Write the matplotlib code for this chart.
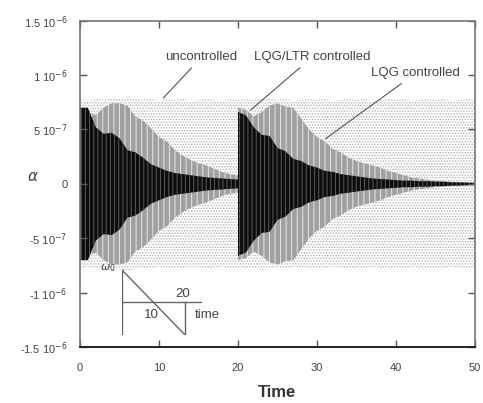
import numpy as np
import matplotlib.pyplot as plt

plt.rcParams['font.family'] = ['Liberation Sans', 'DejaVu Sans']
plt.rcParams['hatch.linewidth'] = 0.7

# envelope of each response (units of 1e-6)
# t = 20 appears twice: the disturbance is applied again there
time = [0, 1, 2, 3, 4, 5, 6, 7, 8, 9, 10, 11, 12, 13, 14, 15, 16, 17, 18, 19, 20,
        20, 21, 22, 23, 24, 25, 26, 27, 28, 29, 30, 31, 32, 33, 34, 35, 36, 37, 38,
        39, 40, 41, 42, 43, 44, 45, 46, 47, 48, 49, 50]

uncontrolled = [0.78, 0.76, 0.78, 0.77, 0.79, 0.78, 0.80, 0.78, 0.77, 0.78, 0.76,
                0.78, 0.77, 0.78, 0.76, 0.77, 0.78, 0.77, 0.76, 0.78, 0.77,
                0.77, 0.78, 0.77, 0.79, 0.78, 0.77, 0.78, 0.76, 0.77, 0.78, 0.77,
                0.78, 0.76, 0.77, 0.78, 0.77, 0.78, 0.76, 0.77, 0.78, 0.77,
                0.78, 0.76, 0.77, 0.78, 0.77, 0.78, 0.76, 0.77, 0.78, 0.77]

lqg = [0.66, 0.66, 0.63, 0.70, 0.74, 0.74, 0.72, 0.62, 0.58, 0.51, 0.43,
       0.39, 0.31, 0.26, 0.22, 0.19, 0.17, 0.14, 0.11, 0.09, 0.08,
       0.70, 0.68, 0.62, 0.66, 0.72, 0.74, 0.71, 0.70, 0.60, 0.50, 0.43,
       0.39, 0.32, 0.29, 0.24, 0.21, 0.19, 0.17, 0.15, 0.12, 0.10,
       0.08, 0.06, 0.05, 0.04, 0.03, 0.025, 0.02, 0.015, 0.012, 0.01]

lqg_ltr = [0.70, 0.70, 0.52, 0.46, 0.47, 0.42, 0.31, 0.29, 0.24, 0.18, 0.15,
           0.12, 0.10, 0.09, 0.08, 0.07, 0.06, 0.055, 0.05, 0.045, 0.04,
           0.66, 0.63, 0.52, 0.45, 0.44, 0.33, 0.30, 0.23, 0.21, 0.17, 0.15,
           0.12, 0.11, 0.09, 0.08, 0.07, 0.06, 0.05, 0.045, 0.04, 0.035,
           0.03, 0.03, 0.025, 0.025, 0.02, 0.02, 0.015, 0.015, 0.012, 0.01]

# little sketch of the rotor speed schedule
sketch_t = [0, 20]
sketch_w = [1, -1]

ytick_vals = [-1.5e-6, -1e-6, -5e-7, 0, 5e-7, 1e-6, 1.5e-6]
ytick_labels = [r'-1.5 10$^{-6}$', r'-1 10$^{-6}$', r'-5 10$^{-7}$', '0',
                r'5 10$^{-7}$', r'1 10$^{-6}$', r'1.5 10$^{-6}$']

t = np.array(time)
scale = 1e-6

fig = plt.figure(figsize=(4.83, 4.03), dpi=100)
ax = fig.add_axes([0.1656, 0.1382, 0.8178, 0.8108])

a = np.array(uncontrolled) * scale
ax.fill_between(t, -a, a, facecolor='white', edgecolor='#b4b4b4', hatch='......',
                linewidth=0)
a = np.array(lqg) * scale
ax.fill_between(t, -a, a, facecolor='#a0a0a0', edgecolor='#e6e6e6', hatch='|||',
                linewidth=0)
a = np.array(lqg_ltr) * scale
ax.fill_between(t, -a, a, facecolor='#0c0c0c', edgecolor='#5a5a5a', hatch='||||',
                linewidth=0)

ax.set_xlim(0, 50)
ax.set_ylim(-1.5e-6, 1.5e-6)
ax.set_xticks([0, 10, 20, 30, 40, 50])
ax.set_yticks(ytick_vals)
ax.set_yticklabels(ytick_labels)
ax.tick_params(direction='in', length=5, width=1, colors='#555555',
               labelcolor='#444444', top=True, right=True, labelsize=8)
ax.tick_params(axis='x', pad=11)
ax.tick_params(axis='y', pad=9)
for side in ['left', 'right', 'top']:
    ax.spines[side].set_color('#777777')
    ax.spines[side].set_linewidth(1.2)
ax.spines['bottom'].set_color('#222222')
ax.spines['bottom'].set_linewidth(1.4)

ax.set_ylabel(r'$\alpha$', rotation=0, fontsize=11, color='#444444')
ax.yaxis.set_label_coords(-0.119, 0.5)
ax.set_xlabel('Time', fontsize=12, fontweight='bold', color='#333333', va='top')
ax.xaxis.set_label_coords(0.5, -0.115)

arrow = dict(arrowstyle='-', color='#555555', lw=0.8)
ax.annotate('uncontrolled', xy=(10.3, 0.77e-6), xytext=(15.4, 1.164e-6),
            ha='center', va='center', fontsize=9.5, color='#444444', arrowprops=arrow)
ax.annotate('LQG/LTR controlled', xy=(21.3, 0.66e-6), xytext=(29.4, 1.164e-6),
            ha='center', va='center', fontsize=9.5, color='#444444', arrowprops=arrow)
ax.annotate('LQG controlled', xy=(30.8, 0.40e-6), xytext=(42.5, 1.017e-6),
            ha='center', va='center', fontsize=9.5, color='#444444', arrowprops=arrow)

# inset sketch
ins = ax.inset_axes([5.32, -1.386e-6, 10.08, 0.605e-6], transform=ax.transData)
ins.set_xlim(0, 25.3)
ins.set_ylim(-1, 1.03)
ins.axis('off')
sk = dict(color='#666666', lw=1)
ins.plot(sketch_t, sketch_w, **sk)
ins.plot([0, 25.3], [0, 0], **sk)
ins.plot([0, 0], [1, -1], **sk)
ins.plot([sketch_t[1], sketch_t[1]], [0, sketch_w[1]], **sk)
ins.text(-4.5, 1.05, r'$\omega_0$', fontsize=8, color='#444444', ha='center', va='center')
ins.text(19.4, 0.26, '20', fontsize=9.5, color='#444444', ha='center', va='center')
ins.text(9.2, -0.38, '10', fontsize=9.5, color='#444444', ha='center', va='center')
ins.text(23.2, -0.38, 'time', fontsize=9.5, color='#444444', ha='left', va='center')

fig.savefig('out.png', dpi=100)
